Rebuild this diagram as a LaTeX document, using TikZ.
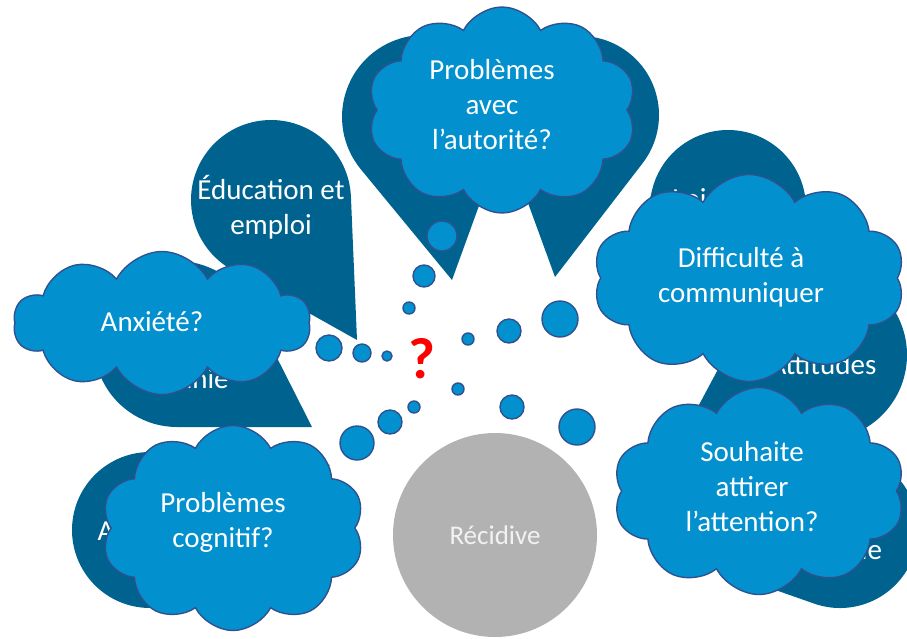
\documentclass[tikz,border=0pt]{standalone}
\usepackage{fontspec}
\setmainfont{Carlito}
\usetikzlibrary{calc}
\usetikzlibrary{shapes.symbols}

\definecolor{petalblue}{RGB}{0,99,143}
\definecolor{cloudblue}{RGB}{3,144,207}
\definecolor{cloudline}{RGB}{47,82,143}
\definecolor{coregray}{RGB}{178,178,178}
\definecolor{coretext}{RGB}{242,242,242}

% teardrop petal: tip, centre, radius
\newcommand{\petal}[3]{%
  \fill [petalblue] let \p1 = #1, \p2 = #2,
    \n1 = {atan2(\y1-\y2,\x1-\x2)},
    \n2 = {veclen(\x1-\x2,\y1-\y2)},
    \n3 = {acos(#3/\n2)} in
    #1 -- ($#2+(\n1+\n3:#3)$) arc [start angle=\n1+\n3,
    end angle=\n1-\n3+360, radius=#3] -- cycle;}

\begin{document}
\begin{tikzpicture}[x=1pt, y=1pt]
\tikzstyle{thought}=[cloud, cloud puffs=10, cloud puff arc=125, cloud ignores 
aspect, draw=cloudline, line width=1.4pt, fill=cloudblue, inner sep=0pt]
\tikzstyle{thoughttext}=[text=white, align=center, 
font=\fontsize{29}{35}\selectfont]
\tikzstyle{bubble}=[circle, draw=cloudline, fill=cloudblue, line width=1.4pt, 
inner sep=0pt]

	\useasboundingbox (0,-638) rectangle (907,0);
	\clip (0,-638) rectangle (907,0);

	% petals
	\petal{(357,-340)}{(271,-200)}{80}
	\petal{(452,-280)}{(424,-117)}{82}
	\petal{(555,-277)}{(580,-115)}{79}
	\petal{(625,-300)}{(728,-208)}{78}
	\petal{(685,-431)}{(822,-355)}{85}
	\petal{(690,-560)}{(840,-530)}{78}
	\petal{(330,-465)}{(150,-530)}{78}
	\petal{(312,-427)}{(177,-344)}{83}

	% petal labels
	\node [thoughttext] (educ) at (271,-207) {Éducation et\\emploi};
	\node [thoughttext, anchor=east] (freq) at (625,-140) {Fréquentations};
	\node [thoughttext] (lois) at (709,-199) {Loisirs};
	\node [thoughttext] (atti) at (823,-365) {Attitudes};
	\node [thoughttext] (fami) at (840,-550) {Famille};
	\node [thoughttext, anchor=west] (ante) at (94,-531) {Antécédents};
	\node [thoughttext] (toxi) at (192,-361) {Toxico-\\manie};

	% recidivism
	\node [circle, fill=coregray, minimum size=204, inner sep=0pt, 
	text=coretext, font=\fontsize{27}{32}\selectfont] (core) at (495,-535) 
	{Récidive};

	% bubbles
	\foreach \bx/\by/\br [count=\i] in {409/308/6, 424/276/11, 442/236/15, 
	387/356/5, 362/353/9, 329/348/13, 468/339/6, 509/331/12, 560/319/18, 
	458/389/6, 512/407/12, 577/427/18, 414/407/6, 390/422/12, 357/443/17}
		\node [bubble, minimum size=2*\br] (dot\i) at (\bx,-\by) {};

	% clouds
	\node [thought, minimum width=269, minimum height=206] (autorite) at 
	(502,-110) {};
	\node [thoughttext] (autorite text) at ($(autorite)+(-10,5)$) 
	{Problèmes\\avec\\l’autorité?};

	\node [thought, minimum width=297, minimum height=143] (anxiete) at 
	(162,-323) {};
	\node [thoughttext] (anxiete text) at ($(anxiete)+(-10,1)$) {Anxiété?};

	\node [thought, minimum width=312, minimum height=207] (difficulte) at 
	(749,-278) {};
	\node [thoughttext] (difficulte text) at ($(difficulte)+(-8,1)$) 
	{Difficulté à\\communiquer};

	\node [thought, minimum width=292, minimum height=207] (souhaite) at 
	(759,-491) {};
	\node [thoughttext] (souhaite text) at ($(souhaite)+(-7,4)$) 
	{Souhaite\\attirer\\l’attention?};

	\node [thought, minimum width=263, minimum height=205] (cognitif) at 
	(233,-528) {};
	\node [thoughttext] (cognitif text) at ($(cognitif)+(-10,6)$) 
	{Problèmes\\cognitif?};

	% question mark
	\node [text=red, font=\fontsize{58}{58}\selectfont\bfseries] (quest) at 
	(422,-359) {?};
\end{tikzpicture}
\end{document}
